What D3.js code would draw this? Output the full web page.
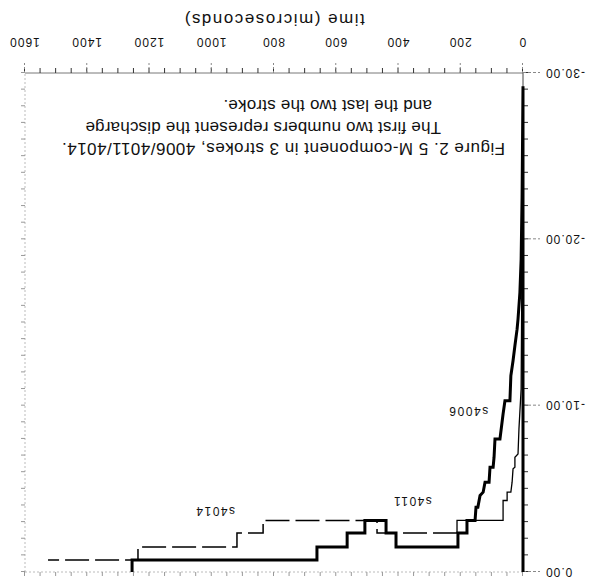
<!DOCTYPE html>
<html>
<head>
<meta charset="utf-8">
<script src="https://cdn.jsdelivr.net/npm/d3@7"></script>
<style>
  body { margin: 0; background: #fff; }
  svg { display: block; }
  text { font-family: "Liberation Sans", Arial, sans-serif; fill: #111; }
</style>
</head>
<body>
<svg id="chart" width="592" height="588"></svg>
<script>
const s4006Time  = [0, 0, 3, 6, 10, 16, 19, 26, 32, 39, 42, 58, 64, 74, 90, 93, 96, 106, 109, 122, 128, 138, 145, 151, 154, 180, 180, 209, 209, 408, 408, 440, 440, 508, 508, 565, 565, 662, 662, 1256, 1256];
const s4006Value = [0, -29.2, -22.5, -18.8, -16.8, -15.2, -14.6, -13.6, -12.7, -11.8, -10.3, -10.3, -9.5, -8.0, -8.0, -6.9, -6.3, -6.3, -5.4, -5.4, -4.8, -4.6, -3.9, -3.9, -3.1, -3.1, -2.35, -2.35, -1.5, -1.5, -2.35, -2.35, -3.1, -3.1, -2.35, -2.35, -1.5, -1.5, -0.72, -0.72, 0];

const s4011Time  = [0, 3, 6, 13, 16, 26, 26, 32, 35, 39, 51, 51, 64, 64, 212, 212];
const s4011Value = [-28.9, -19.4, -11.0, -8.6, -7.1, -6.9, -6.3, -6.2, -5.4, -4.8, -4.8, -4.3, -4.3, -3.1, -3.1, -2.35];

const s4014Time  = [212, 469, 469, 835, 835, 919, 919, 1237, 1237, 1526];
const s4014Value = [-2.35, -2.35, -3.1, -3.1, -2.35, -2.35, -1.5, -1.5, -0.72, -0.72];

const xTicks = [0, 200, 400, 600, 800, 1000, 1200, 1400, 1600];
const yTicks = [0, -10, -20, -30];

const captionLines = [
  'Figure 2. 5 M-component in 3 strokes, 4006/4011/4014.',
  'The first two numbers represent the discharge',
  'and the last two the stroke.'
];

const svg = d3.select('#chart');

// The scanned page is upside down, so draw normally and turn the whole group
const g = svg.append('g')
  .attr('transform', 'rotate(180 296 294)');

const x = d3.scaleLinear().domain([0, 1600]).range([69, 567]);
const y = d3.scaleLinear().domain([0, -30]).range([16, 515]);

// frame
g.append('line')
  .attr('x1', x(0)).attr('x2', x(0)).attr('y1', y(0)).attr('y2', y(-30))
  .style('stroke', '#444').style('stroke-width', 1);
g.append('line')
  .attr('x1', x(0)).attr('x2', x(1600)).attr('y1', y(-30)).attr('y2', y(-30))
  .style('stroke', '#555').style('stroke-width', 0.8);
g.append('line')
  .attr('x1', x(0)).attr('x2', x(1600)).attr('y1', y(0)).attr('y2', y(0))
  .style('stroke', '#aaa').style('stroke-width', 0.8).style('stroke-dasharray', '2,2');
g.append('line')
  .attr('x1', x(1600)).attr('x2', x(1600)).attr('y1', y(0)).attr('y2', y(-30))
  .style('stroke', '#aaa').style('stroke-width', 0.8).style('stroke-dasharray', '2,2');

const styleAxis = (sel, color, dash) => {
  sel.select('.domain').remove();
  sel.selectAll('.tick line')
    .style('stroke', color)
    .style('stroke-dasharray', dash);
};

// bottom axis: minor + major ticks with labels
const xMinor = d3.range(0, 1601, 50);
g.append('g')
  .attr('transform', `translate(0, ${y(-30)})`)
  .call(d3.axisBottom(x).tickValues(xMinor).tickSize(5).tickFormat(''))
  .call(sel => styleAxis(sel, '#333', null));

g.append('g')
  .attr('class', 'x-axis')
  .attr('transform', `translate(0, ${y(-30)})`)
  .call(d3.axisBottom(x).tickValues(xTicks).tickSize(12).tickPadding(14).tickFormat(d => d))
  .call(sel => styleAxis(sel, '#888', '2,2'))
  .call(sel => sel.selectAll('text')
    .style('font-size', '12px')
    .style('letter-spacing', '1px')
    .style('fill', '#111'));

g.append('text')
  .attr('x', (x(0) + x(1600)) / 2)
  .attr('y', 574)
  .style('text-anchor', 'middle')
  .style('font-size', '17px')
  .style('letter-spacing', '1.5px')
  .text('time (microseconds)');

// top axis: ticks only
g.append('g')
  .attr('transform', `translate(0, ${y(0)})`)
  .call(d3.axisTop(x).tickValues(xMinor).tickSize(4).tickFormat(''))
  .call(sel => styleAxis(sel, '#999', null));

// left axis
const yMinor = d3.range(0, -31, -1);
g.append('g')
  .attr('transform', `translate(${x(0)}, 0)`)
  .call(d3.axisLeft(y).tickValues(yMinor).tickSize(5).tickFormat(''))
  .call(sel => styleAxis(sel, '#333', null));

g.append('g')
  .attr('class', 'y-axis')
  .attr('transform', `translate(${x(0)}, 0)`)
  .call(d3.axisLeft(y).tickValues(yTicks).tickSize(17).tickPadding(5).tickFormat(d => d.toFixed(2)))
  .call(sel => styleAxis(sel, '#888', '3,2'))
  .call(sel => sel.selectAll('text')
    .style('font-size', '12px')
    .style('letter-spacing', '1px')
    .style('fill', '#111'));

// right axis: ticks only
g.append('g')
  .attr('transform', `translate(${x(1600)}, 0)`)
  .call(d3.axisRight(y).tickValues(yMinor).tickSize(4).tickFormat(''))
  .call(sel => styleAxis(sel, '#999', null));

// curves
const line = d3.line()
  .x(d => x(d[0]))
  .y(d => y(d[1]));

const series = [
  {name: 's4014', t: s4014Time, v: s4014Value, width: 1.5, dash: '24,6'},
  {name: 's4011', t: s4011Time, v: s4011Value, width: 1.3, dash: null},
  {name: 's4006', t: s4006Time, v: s4006Value, width: 3, dash: null}
];

g.append('g')
  .attr('class', 'lines')
  .selectAll('path')
  .data(series)
  .join('path')
  .attr('d', d => line(d.t.map((t, i) => [t, d.v[i]])))
  .style('fill', 'none')
  .style('stroke', '#000')
  .style('stroke-width', d => d.width)
  .style('stroke-dasharray', d => d.dash)
  .style('stroke-linejoin', 'miter');

// curve labels
const curveLabels = [
  {text: 's4006', t: 112, v: -9.9},
  {text: 's4011', t: 293, v: -4.5},
  {text: 's4014', t: 925, v: -3.9}
];
g.append('g')
  .selectAll('text')
  .data(curveLabels)
  .join('text')
  .attr('x', d => x(d.t))
  .attr('y', d => y(d.v))
  .style('font-size', '12px')
  .style('letter-spacing', '1.5px')
  .text(d => d.text);

// caption inside the plot
const captionX = [87, 151, 160];
const captionWidth = [443, null, null];
g.append('g')
  .selectAll('text')
  .data(captionLines)
  .join('text')
  .attr('x', (d, i) => captionX[i])
  .attr('y', (d, i) => 445 + i * 21.5)
  .attr('textLength', (d, i) => captionWidth[i])
  .attr('lengthAdjust', 'spacing')
  .style('font-size', '17px')
  .style('letter-spacing', (d, i) => captionWidth[i] ? null : '0.2px')
  .text(d => d);
</script>
</body>
</html>
